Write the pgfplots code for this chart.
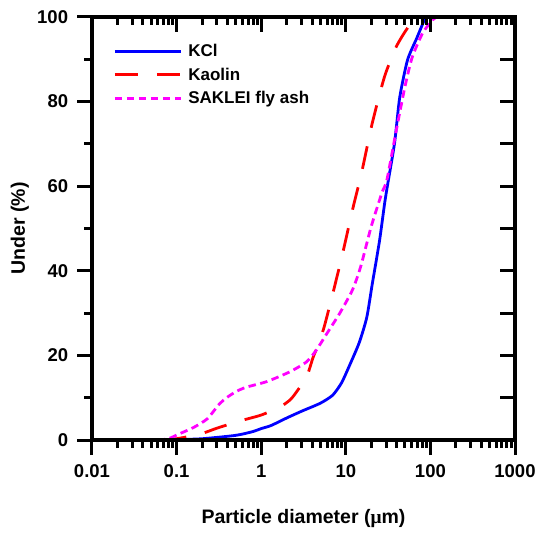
\documentclass[border=0pt]{standalone}
\usepackage{fontspec}
\setmainfont{Liberation Sans}
\newfontfamily\serifmu{Liberation Serif}
\usepackage{pgfplots}
\pgfplotsset{compat=1.18}
\definecolor{mymag}{RGB}{255,0,255}
\definecolor{myblue}{RGB}{0,0,255}
\definecolor{myred}{RGB}{255,0,0}
\pgfplotsset{every axis/.append style={line width=3.2pt},
  every tick/.style={line width=3pt, black}}
\begin{document}
\begin{tikzpicture}[line width=3.2pt]
\path[use as bounding box] (-92pt,-93pt) rectangle (446pt,440pt);
\begin{axis}[
  width=423pt, height=423pt, scale only axis,
  xmode=log, xmin=0.01, xmax=1000, ymin=0, ymax=100,
  axis line style={line width=3.2pt},
  tick style={line width=3pt, black},
  major tick length=15pt, minor tick length=8pt,
  /pgf/number format/assume math mode=true,
  tick label style={font=\fontsize{18.5}{18}\selectfont\bfseries},
  xticklabel style={yshift=-5pt},
  yticklabel style={xshift=-4pt},
  tick align=outside,
  xtick pos=bottom, ytick pos=left,
  xtick={0.01,0.1,1,10,100,1000},
  xticklabels={0.01,0.1,1,10,100,1000},
  ytick={0,20,40,60,80,100},
  minor ytick={10,30,50,70,90},
  xlabel={Particle diameter ({\serifmu μ}m)},
  ylabel={Under (\%)},
  label style={font=\fontsize{19.5}{20}\selectfont\bfseries},
  xlabel style={yshift=-23pt},
  legend style={draw=none, fill=none, at={(0.04,0.948)}, anchor=north west,
    font=\fontsize{17}{17}\selectfont\bfseries, row sep=5.5pt,
    /tikz/every odd column/.append style={column sep=4pt}},
  legend cell align=left,
  legend image code/.code={\draw[#1] (0pt,0pt) -- (66pt,0pt);},
]
\addplot[myblue, line width=2.8pt, smooth, tension=0.4] coordinates {
(0.06,0) (0.1,0.1) (0.2,0.3) (0.5,1.1) (0.8,2.0) (1.0,2.7) (1.3,3.4) (2.0,5.2) (3.0,6.8) (5.0,8.7) (7.0,10.6) (8.9,13.5) (11,17.5) (14.4,23) (17.7,29) (20.6,37) (25,47) (28.8,56) (31.3,60.5) (37.7,70.2) (43.4,81) (53.6,89.8) (69,95) (85,99.3) (92,100)
};
\addlegendentry{KCl}
\addplot[myred, line width=2.8pt, dash pattern=on 23pt off 19pt, smooth, tension=0.4] coordinates {
(0.07,0) (0.1,0.3) (0.19,1.4) (0.3,2.8) (0.56,4.5) (1.0,5.9) (1.67,7.8) (2.2,9.5) (2.6,11.3) (3.45,15) (4.1,19.5) (4.5,21.5) (5.2,25) (5.6,27) (7.0,34.5) (9.2,44.2) (12,54.4) (15.3,63) (20.6,75) (28.8,86) (39.6,93) (52,97) (65,99.5) (72,100)
};
\addlegendentry{Kaolin}
\addplot[mymag, line width=2.8pt, dash pattern=on 7.5pt off 4.5pt, smooth, tension=0.4] coordinates {
(0.06,0) (0.08,0.3) (0.109,1.5) (0.16,3) (0.23,5) (0.32,8.5) (0.39,10) (0.51,11.5) (0.67,12.5) (1.16,13.8) (2.17,16.1) (3.45,18.5) (4.5,21.3) (5.9,25) (8.5,30) (12,35.5) (15,41) (20,50.5) (26.8,58.5) (30.6,61.5) (39.6,73.3) (50,83.5) (61,90.5) (81,96.2) (106,99.3) (120,100)
};
\addlegendentry{SAKLEI fly ash}
\end{axis}
\begin{axis}[
  width=423pt, height=423pt, scale only axis,
  xmode=log, xmin=0.01, xmax=1000, ymin=0, ymax=100,
  axis line style={line width=3.2pt},
  tick style={line width=3pt, black},
  major tick length=15pt, minor tick length=8pt,
  tick align=inside,
  xtick pos=top, ytick pos=right,
  xtick={0.01,0.1,1,10,100,1000},
  ytick={0,10,20,30,40,50,60,70,80,90,100},
  xticklabels={}, yticklabels={},
  clip=false,
]
\draw[line width=3.2pt, line join=miter] (rel axis cs:0,0) rectangle (rel axis cs:1,1);
\end{axis}
\end{tikzpicture}
\end{document}
